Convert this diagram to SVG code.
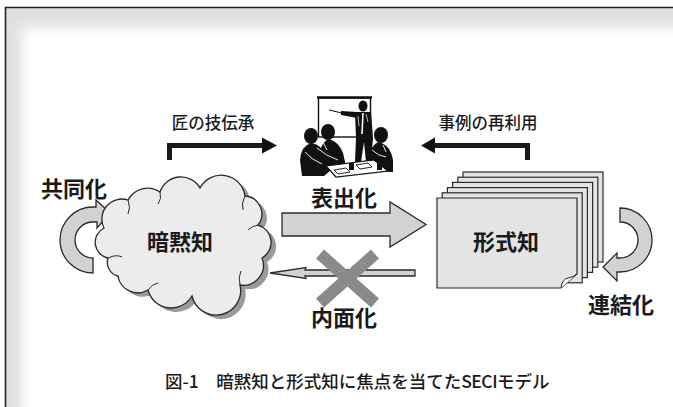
<svg xmlns="http://www.w3.org/2000/svg" width="673" height="407" viewBox="0 0 673 407">
  <defs>
    <filter id="soft" x="-50" y="-50" width="900" height="600" filterUnits="userSpaceOnUse">
      <feGaussianBlur stdDeviation="6"/>
    </filter>
    <clipPath id="frameClip">
      <rect x="6" y="8" width="667" height="399"/>
    </clipPath>
  </defs>
  <style>
    .lbl { font-family: "Noto Sans CJK JP", "Noto Sans", sans-serif; fill: #1a1a1a; }
    .big { font-size: 22px; font-weight: 700; text-anchor: middle; }
    .small { font-size: 16.5px; font-weight: 500; text-anchor: middle; }
    .cap { font-size: 17.5px; font-weight: 500; }
    .flow { fill: #d2d2d2; stroke: #2a2a2a; stroke-width: 1.3; stroke-linejoin: miter; }
    .page { fill: #e4e4e4; stroke: #2a2a2a; stroke-width: 1.2; }
    .bracket { fill: none; stroke: #1a1a1a; stroke-width: 5; stroke-linejoin: miter; }
    .ink { fill: #111; }
  </style>

  <!-- white page with soft inner shading along the top and left frame edges -->
  <rect x="0" y="0" width="673" height="407" fill="#fff"/>
  <g clip-path="url(#frameClip)">
    <rect x="5" y="8" width="668" height="399" fill="#e0e0e0"/>
    <rect x="22" y="27" width="720" height="460" fill="#fff" filter="url(#soft)"/>
  </g>
  <path d="M5.5,407 V7.5 H673" fill="none" stroke="#222" stroke-width="1.6"/>

  <!-- connectors -->
  <g id="connectors">
    <!-- tacit-skill transfer bracket arrow -->
    <path class="bracket" d="M169.5,160 V145.5 H263"/>
    <polygon class="ink" points="262,137.5 277,145.5 262,153.5"/>
    <!-- case-reuse bracket arrow -->
    <path class="bracket" d="M527.5,160 V145.5 H434"/>
    <polygon class="ink" points="435,137.5 421,145.5 435,153.5"/>
    <!-- externalization arrow -->
    <polygon class="flow" points="282,213 390,213 390,202 426,224.5 390,247 390,236 282,236"/>
    <!-- internalization arrow -->
    <polygon class="flow" points="415,270 305,270 306,267.5 270,273 306,278.5 305,276 415,276"/>
    <!-- cross over internalization -->
    <g stroke="#8a8a8a" stroke-width="12" stroke-linecap="butt">
      <line x1="320" y1="254" x2="375" y2="303"/>
      <line x1="375" y1="254" x2="320" y2="303"/>
    </g>
    <!-- socialization loop -->
    <path class="flow" d="M93,273 A33,33 0 0 1 93,207 L96,207 L96,200 L110,213 L97,228 L97,222 L93,222 A18,18 0 0 0 93,258 Z"/>
    <!-- combination loop -->
    <path class="flow" d="M620,222 L620,208 A32,32 0 0 1 620,272 L617,272 L617,281 L603,267 L617,253 L617,258 L620,258 A18,18 0 0 0 620,222 Z"/>
  </g>

  <!-- meeting scene -->
  <g id="meeting">
    <rect x="318.5" y="98" width="52" height="39" fill="#fff" stroke="#111" stroke-width="1.4"/>
    <line x1="317" y1="97.5" x2="372" y2="97.5" stroke="#111" stroke-width="2.5"/>
    <!-- presenter -->
    <ellipse class="ink" cx="363" cy="106" rx="4.5" ry="5.5"/>
    <path class="ink" d="M355,112 L371,112 L373,138 L371,162 L366,162 L364,142 L361,162 L355,162 L356,138 Z"/>
    <path class="ink" d="M357,112 L341,111 L341,115 L357,118 Z"/>
    <line x1="329" y1="110" x2="342" y2="113" stroke="#111" stroke-width="1"/>
    <path d="M363,113 L362,134" stroke="#fff" stroke-width="1.6"/>
    <path d="M366,114 L368,122 M358,116 L359,126" stroke="#fff" stroke-width="0.7"/>
    <!-- audience on the left -->
    <ellipse class="ink" cx="311" cy="136" rx="7" ry="8"/>
    <path class="ink" d="M302,176 L300,160 Q301,146 311,143 Q322,145 327,156 L331,170 L324,176 Z"/>
    <ellipse class="ink" cx="328" cy="132" rx="7" ry="8"/>
    <path class="ink" d="M318,162 Q320,142 329,139 Q339,142 343,153 L346,166 L330,169 Z"/>
    <path d="M305,152 Q312,160 322,164 M317,148 Q326,156 338,160 M323,142 L327,150" fill="none" stroke="#fff" stroke-width="0.9"/>
    <!-- audience on the right -->
    <ellipse class="ink" cx="381" cy="135" rx="7" ry="8"/>
    <path class="ink" d="M368,171 Q366,149 378,142 Q390,144 393,160 L393,172 Z"/>
    <path d="M372,150 Q378,156 386,157 M383,145 L386,152" fill="none" stroke="#fff" stroke-width="0.9"/>
    <!-- table with papers and cups -->
    <path d="M326,166 L374,160 L388,171 L336,177 Z" fill="#fff" stroke="#111" stroke-width="1.2"/>
    <path d="M334,170 L346,168 L350,172 L338,174 Z M356,165 L368,163 L372,167 L360,169 Z" fill="none" stroke="#111" stroke-width="0.9"/>
    <rect x="349" y="163" width="5" height="7" class="ink"/>
    <rect x="377" y="163" width="5" height="7" class="ink"/>
  </g>

  <!-- tacit knowledge cloud -->
  <g id="tacit">
    <path transform="translate(5,4)" fill="#9a9a9a" d="M108,258 A16,16 0 0 1 104,228 A20,20 0 0 1 128,200 A22,22 0 0 1 160,192 A22,22 0 0 1 200,188 A24,24 0 0 1 245,196 A18,18 0 0 1 258,225 A18,18 0 0 1 262,258 A20,20 0 0 1 240,285 A24,24 0 0 1 192,296 A24,24 0 0 1 148,290 A20,20 0 0 1 118,276 A14,14 0 0 1 108,258 Z"/>
    <path fill="#ececec" stroke="#2a2a2a" stroke-width="1.3" d="M108,258 A16,16 0 0 1 104,228 A20,20 0 0 1 128,200 A22,22 0 0 1 160,192 A22,22 0 0 1 200,188 A24,24 0 0 1 245,196 A18,18 0 0 1 258,225 A18,18 0 0 1 262,258 A20,20 0 0 1 240,285 A24,24 0 0 1 192,296 A24,24 0 0 1 148,290 A20,20 0 0 1 118,276 A14,14 0 0 1 108,258 Z"/>
    <path fill="none" stroke="#2a2a2a" stroke-width="1" d="M108,258 Q116,254 122,257 M128,200 Q131,208 128,214 M160,192 Q162,199 158,204 M245,196 Q241,203 243,210 M258,225 Q252,226 248,230 M240,285 Q238,277 241,271 M148,290 Q152,284 158,283"/>
    <text class="lbl big" x="180" y="250">暗黙知</text>
  </g>

  <!-- explicit knowledge document stack -->
  <g id="explicit">
    <rect class="page" x="463" y="172" width="140" height="90"/>
    <rect class="page" x="457.8" y="177.2" width="140" height="90"/>
    <rect class="page" x="452.6" y="182.4" width="140" height="90"/>
    <rect class="page" x="447.4" y="187.6" width="140" height="90"/>
    <rect class="page" x="442.2" y="192.8" width="140" height="90"/>
    <path class="page" d="M437,198 H577 V274 L561,288 H437 Z"/>
    <path d="M561,288 Q562,279 568,278 Q574,277 577,274" fill="#f4f4f4" stroke="#2a2a2a" stroke-width="1"/>
    <text class="lbl big" x="506" y="250">形式知</text>
  </g>

  <!-- labels -->
  <g id="labels">
    <text class="lbl small" x="213" y="129">匠の技伝承</text>
    <text class="lbl small" x="488" y="129">事例の再利用</text>
    <text class="lbl big" x="74" y="197">共同化</text>
    <text class="lbl big" x="344" y="206">表出化</text>
    <text class="lbl big" x="344" y="326">内面化</text>
    <text class="lbl big" x="621" y="313">連結化</text>
  </g>

  <text class="lbl cap" x="165" y="388">図-1　暗黙知と形式知に焦点を当てた<tspan letter-spacing="-0.5">SECI</tspan>モデル</text>
</svg>
